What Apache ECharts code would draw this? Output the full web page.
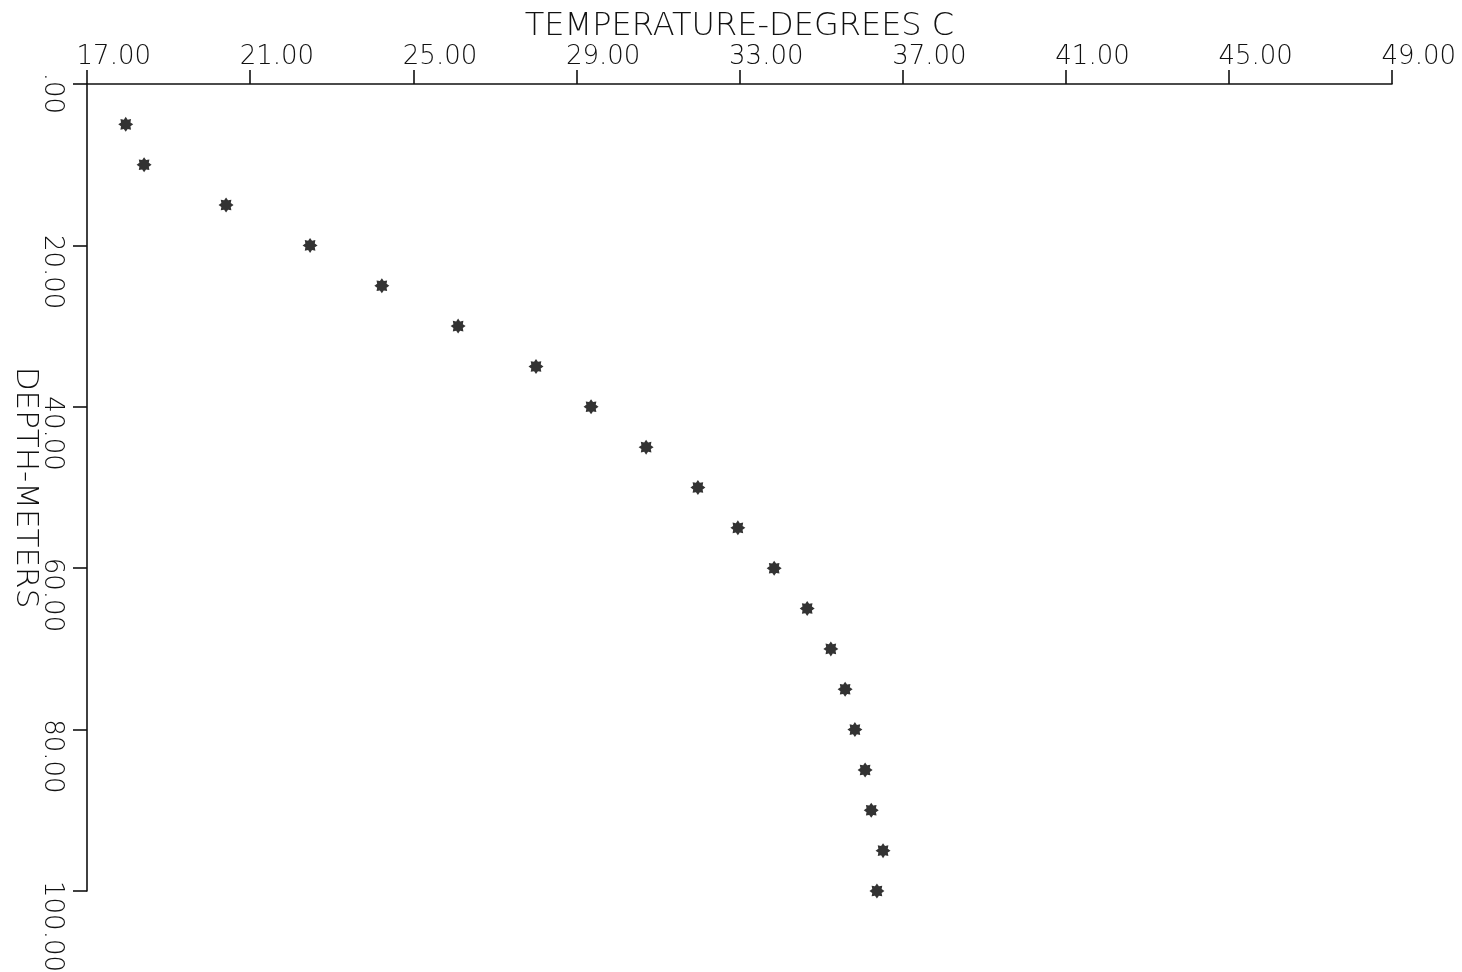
<!DOCTYPE html>
<html>
<head>
<meta charset="utf-8">
<script src="https://cdn.jsdelivr.net/npm/echarts@6/dist/echarts.min.js"></script>
<style>html,body{margin:0;padding:0;background:#fff}#c{width:1462px;height:972px}</style>
</head>
<body>
<div id="c"></div>
<script>
// ---- data ----
const depths = [5, 10, 15, 20, 25, 30, 35, 40, 45, 50, 55, 60, 65, 70, 75, 80, 85, 90, 95, 100];
const temps  = [17.95, 18.40, 20.41, 22.47, 24.23, 26.10, 28.01, 29.36, 30.71, 31.98, 32.96, 33.85, 34.66, 35.24, 35.59, 35.83, 36.08, 36.23, 36.52, 36.37];
const xTitle = 'TEMPERATURE-DEGREES C';
const yTitle = 'DEPTH-METERS';
const xTickLabels = ['17.00','21.00','25.00','29.00','33.00','37.00','41.00','45.00','49.00'];
const yTickLabels = ['.00','20.00','40.00','60.00','80.00','100.00'];

// asterisk symbol path (8-point star)
function starPath(n, ro, ri) {
  let d = '';
  for (let i = 0; i < 2 * n; i++) {
    const r = i % 2 === 0 ? ro : ri;
    const a = Math.PI * i / n - Math.PI / 2;
    const x = (50 + r * Math.cos(a)).toFixed(2), y = (50 + r * Math.sin(a)).toFixed(2);
    d += (i === 0 ? 'M' : 'L') + x + ' ' + y + ' ';
  }
  return 'path://' + d + 'Z';
}

const font = "'DejaVu Sans', sans-serif";
const chart = echarts.init(document.getElementById('c'));
chart.setOption({
  backgroundColor: '#fff',
  animation: false,
  grid: { left: 87, top: 84, right: 70, bottom: 81, containLabel: false, outerBoundsMode: 'none' },
  xAxis: {
    type: 'value', position: 'top', min: 17, max: 49, interval: 4,
    name: xTitle, nameLocation: 'middle', nameGap: 41, nameMoveOverlap: false,
    nameTextStyle: { fontFamily: font, fontSize: 32, color: '#111', fontWeight: 200 },
    axisLine: { show: true, lineStyle: { color: '#111', width: 1.6 } },
    axisTick: { show: true, inside: false, length: 14, lineStyle: { color: '#111', width: 1.6 } },
    splitLine: { show: false },
    axisLabel: {
      margin: 14, color: '#111', align: 'center',
      formatter: function (v) {
        const i = Math.round((v - 17) / 4);
        return '{a|' + (xTickLabels[i] || '') + '}';
      },
      rich: { a: { width: 128, align: 'right', fontFamily: font, fontSize: 26, color: '#111', fontWeight: 200 } }
    }
  },
  yAxis: {
    type: 'value', inverse: true, min: 0, max: 100, interval: 20,
    name: yTitle, nameLocation: 'middle', nameGap: 46, nameRotate: -90, nameMoveOverlap: false,
    nameTextStyle: { fontFamily: font, fontSize: 31, color: '#111', fontWeight: 200 },
    axisLine: { show: true, lineStyle: { color: '#111', width: 1.6 } },
    axisTick: { show: true, inside: false, length: 14, lineStyle: { color: '#111', width: 1.6 } },
    splitLine: { show: false },
    axisLabel: {
      margin: 22, rotate: -90, color: '#111', align: 'center', verticalAlign: 'top',
      formatter: function (v) {
        const i = Math.round(v / 20);
        const t = yTickLabels[i] || '';
        const s = t.length === 3 ? 's' : (t.length === 6 ? 'l' : 'm');
        return '{' + s + '|' + t + '}';
      },
      rich: {
        s: { width: 60, align: 'right', fontFamily: font, fontSize: 26, color: '#111', fontWeight: 200 },
        m: { width: 128, align: 'right', fontFamily: font, fontSize: 26, color: '#111', fontWeight: 200 },
        l: { width: 162, align: 'right', fontFamily: font, fontSize: 26, color: '#111', fontWeight: 200 }
      }
    }
  },
  series: [{
    type: 'scatter',
    data: temps.map((t, i) => [t, depths[i]]),
    symbol: starPath(8, 50, 34),
    symbolSize: 15,
    itemStyle: { color: '#000' }
  }]
});
</script>
</body>
</html>
